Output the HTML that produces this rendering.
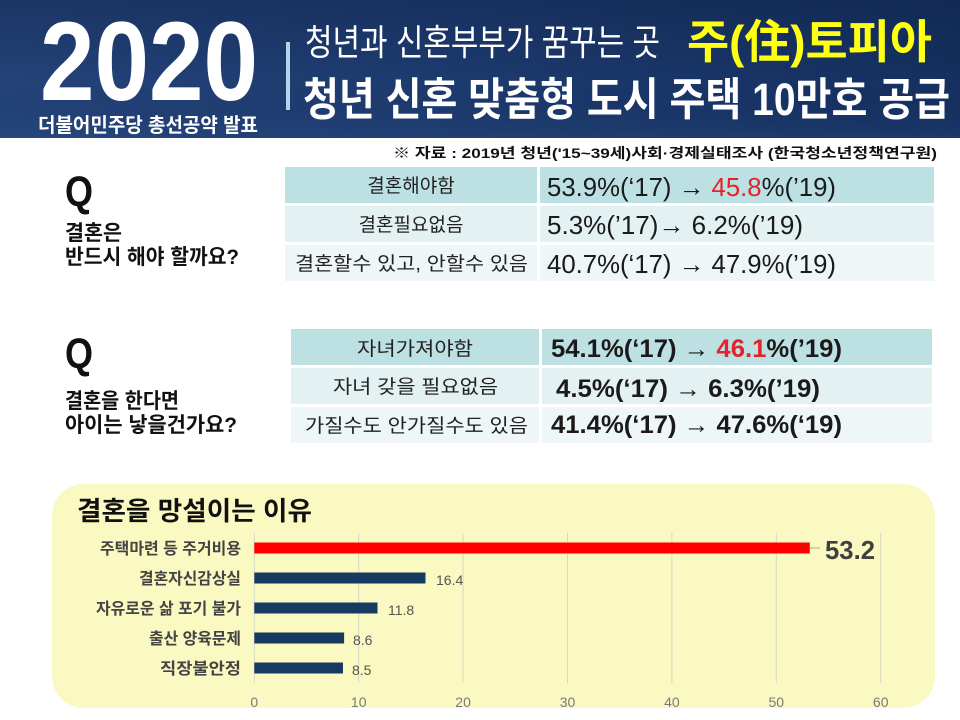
<!DOCTYPE html>
<html><head><meta charset="utf-8">
<style>
html,body{margin:0;padding:0;background:#fff;}
svg{display:block;}
text{font-family:"Liberation Sans","Noto Sans CJK KR",sans-serif;}
.b{font-weight:bold;}
</style></head>
<body>
<svg width="960" height="720" viewBox="0 0 960 720" xmlns="http://www.w3.org/2000/svg">
<defs>
<linearGradient id="hg" x1="0" y1="0" x2="1" y2="0">
<stop offset="0" stop-color="#244379"/>
<stop offset="0.5" stop-color="#1d3a6e"/>
<stop offset="1" stop-color="#15305f"/>
</linearGradient>
<linearGradient id="hv" x1="0" y1="0" x2="0" y2="1">
<stop offset="0" stop-color="#0b1c40" stop-opacity="0.35"/>
<stop offset="0.6" stop-color="#0b1c40" stop-opacity="0"/>
<stop offset="1" stop-color="#2a4f86" stop-opacity="0.25"/>
</linearGradient>
</defs>
<rect x="0" y="0" width="960" height="720" fill="#fff"/>
<!-- header -->
<rect x="0" y="0" width="960" height="138" fill="url(#hg)"/>
<rect x="0" y="0" width="960" height="138" fill="url(#hv)"/>
<text x="40" y="100" class="b" font-size="112" fill="#fff" textLength="218" lengthAdjust="spacingAndGlyphs">2020</text>
<text x="38" y="132" class="b" font-size="20" fill="#fff" textLength="220" lengthAdjust="spacingAndGlyphs">더불어민주당 총선공약 발표</text>
<rect x="286" y="42" width="4" height="68" fill="#b9d3e6"/>
<text x="305" y="55" font-size="36" fill="#fff" textLength="355" lengthAdjust="spacingAndGlyphs" transform="translate(0,0)">청년과 신혼부부가 꿈꾸는 곳</text>
<text x="687" y="58" class="b" font-size="46" fill="#ffff14" textLength="245" lengthAdjust="spacingAndGlyphs">주(住)토피아</text>
<text x="303" y="115" class="b" font-size="45" fill="#fff" textLength="647" lengthAdjust="spacingAndGlyphs">청년 신혼 맞춤형 도시 주택 10만호 공급</text>

<!-- source -->
<text x="393" y="158" class="b" font-size="14" fill="#111" textLength="544" lengthAdjust="spacingAndGlyphs">※ 자료 : 2019년 청년('15~39세)사회·경제실태조사 (한국청소년정책연구원)</text>

<!-- Q1 -->
<text x="65" y="206" class="b" font-size="43" fill="#111" textLength="28" lengthAdjust="spacingAndGlyphs">Q</text>
<text x="65" y="240" class="b" font-size="21" fill="#111" textLength="57" lengthAdjust="spacingAndGlyphs">결혼은</text>
<text x="65" y="264" class="b" font-size="21" fill="#111" textLength="174" lengthAdjust="spacingAndGlyphs">반드시 해야 할까요?</text>

<!-- table 1 -->
<rect x="285" y="167" width="252" height="36" fill="#bde0e3"/>
<rect x="540" y="167" width="394" height="36" fill="#bde0e3"/>
<rect x="285" y="206" width="252" height="36" fill="#e3f1f3"/>
<rect x="540" y="206" width="394" height="36" fill="#e3f1f3"/>
<rect x="285" y="245" width="252" height="36" fill="#eef6f7"/>
<rect x="540" y="245" width="394" height="36" fill="#eef6f7"/>
<text x="411" y="192" font-size="19" fill="#222" text-anchor="middle">결혼해야함</text>
<text x="411" y="231" font-size="19" fill="#222" text-anchor="middle">결혼필요없음</text>
<text x="295" y="270" font-size="19" fill="#222" textLength="233" lengthAdjust="spacingAndGlyphs">결혼할수 있고, 안할수 있음</text>
<text x="547" y="196" font-size="26" fill="#1a1a1a" textLength="289" lengthAdjust="spacingAndGlyphs">53.9%(‘17) → <tspan fill="#e3232a">45.8</tspan>%(’19)</text>
<text x="547" y="234" font-size="26" fill="#1a1a1a" textLength="256" lengthAdjust="spacingAndGlyphs">5.3%(’17)→ 6.2%(’19)</text>
<text x="547" y="273" font-size="26" fill="#1a1a1a" textLength="289" lengthAdjust="spacingAndGlyphs">40.7%(‘17) → 47.9%(’19)</text>

<!-- Q2 -->
<text x="65" y="368" class="b" font-size="43" fill="#111" textLength="28" lengthAdjust="spacingAndGlyphs">Q</text>
<text x="65" y="408" class="b" font-size="21" fill="#111" textLength="114" lengthAdjust="spacingAndGlyphs">결혼을 한다면</text>
<text x="65" y="432" class="b" font-size="21" fill="#111" textLength="172" lengthAdjust="spacingAndGlyphs">아이는 낳을건가요?</text>

<!-- table 2 -->
<rect x="291" y="329" width="248" height="36" fill="#bde0e3"/>
<rect x="542" y="329" width="390" height="36" fill="#bde0e3"/>
<rect x="291" y="368" width="248" height="36" fill="#e3f1f3"/>
<rect x="542" y="368" width="390" height="36" fill="#e3f1f3"/>
<rect x="291" y="407" width="248" height="36" fill="#eef6f7"/>
<rect x="542" y="407" width="390" height="36" fill="#eef6f7"/>
<text x="357" y="355" font-size="19" fill="#222" textLength="116" lengthAdjust="spacingAndGlyphs">자녀가져야함</text>
<text x="333" y="393" font-size="19" fill="#222" textLength="165" lengthAdjust="spacingAndGlyphs">자녀 갖을 필요없음</text>
<text x="305" y="432" font-size="19" fill="#222" textLength="223" lengthAdjust="spacingAndGlyphs">가질수도 안가질수도 있음</text>
<text x="551" y="357" class="b" font-size="25" fill="#1a1a1a" textLength="291" lengthAdjust="spacingAndGlyphs">54.1%(‘17) → <tspan fill="#e3232a">46.1</tspan>%(’19)</text>
<text x="556" y="397" class="b" font-size="25" fill="#1a1a1a" textLength="264" lengthAdjust="spacingAndGlyphs">4.5%(‘17) → 6.3%(’19)</text>
<text x="551" y="433" class="b" font-size="25" fill="#1a1a1a" textLength="291" lengthAdjust="spacingAndGlyphs">41.4%(‘17) → 47.6%(‘19)</text>

<!-- chart -->
<rect x="52" y="484" width="883" height="224" rx="32" ry="32" fill="#f9f9c1"/>
<text x="77" y="520" class="b" font-size="26" fill="#111" textLength="235" lengthAdjust="spacingAndGlyphs">결혼을 망설이는 이유</text>
<g stroke="#d8d8c6" stroke-width="1">
<line x1="254.3" y1="533" x2="254.3" y2="683"/>
<line x1="358.7" y1="533" x2="358.7" y2="683"/>
<line x1="463.1" y1="533" x2="463.1" y2="683"/>
<line x1="567.5" y1="533" x2="567.5" y2="683"/>
<line x1="671.9" y1="533" x2="671.9" y2="683"/>
<line x1="776.3" y1="533" x2="776.3" y2="683"/>
<line x1="880.7" y1="533" x2="880.7" y2="683"/>
</g>
<g font-size="14" fill="#7a7a7a" text-anchor="middle">
<text x="254.3" y="707">0</text>
<text x="358.7" y="707">10</text>
<text x="463.1" y="707">20</text>
<text x="567.5" y="707">30</text>
<text x="671.9" y="707">40</text>
<text x="776.3" y="707">50</text>
<text x="880.7" y="707">60</text>
</g>
<rect x="254.3" y="542.5" width="555.5" height="11" fill="#ff0000"/>
<rect x="254.3" y="572.5" width="171.2" height="11" fill="#173a60"/>
<rect x="254.3" y="602.5" width="123.2" height="11" fill="#173a60"/>
<rect x="254.3" y="632.5" width="89.8" height="11" fill="#173a60"/>
<rect x="254.3" y="662.5" width="88.7" height="11" fill="#173a60"/>
<line x1="810" y1="548" x2="820" y2="548" stroke="#aaa" stroke-width="1"/>
<text x="825" y="559" class="b" font-size="26" fill="#404040" textLength="50" lengthAdjust="spacingAndGlyphs">53.2</text>
<g font-size="14" fill="#555">
<text x="436" y="585">16.4</text>
<text x="388" y="615">11.8</text>
<text x="353" y="645">8.6</text>
<text x="352" y="675">8.5</text>
</g>
<g class="b" font-size="16" fill="#444">
<text x="100" y="554" textLength="141" lengthAdjust="spacingAndGlyphs">주택마련 등 주거비용</text>
<text x="139" y="584" textLength="102" lengthAdjust="spacingAndGlyphs">결혼자신감상실</text>
<text x="96" y="614" textLength="145" lengthAdjust="spacingAndGlyphs">자유로운 삶 포기 불가</text>
<text x="149" y="644" textLength="92" lengthAdjust="spacingAndGlyphs">출산 양육문제</text>
<text x="160" y="674" textLength="81" lengthAdjust="spacingAndGlyphs">직장불안정</text>
</g>
</svg>
</body></html>
